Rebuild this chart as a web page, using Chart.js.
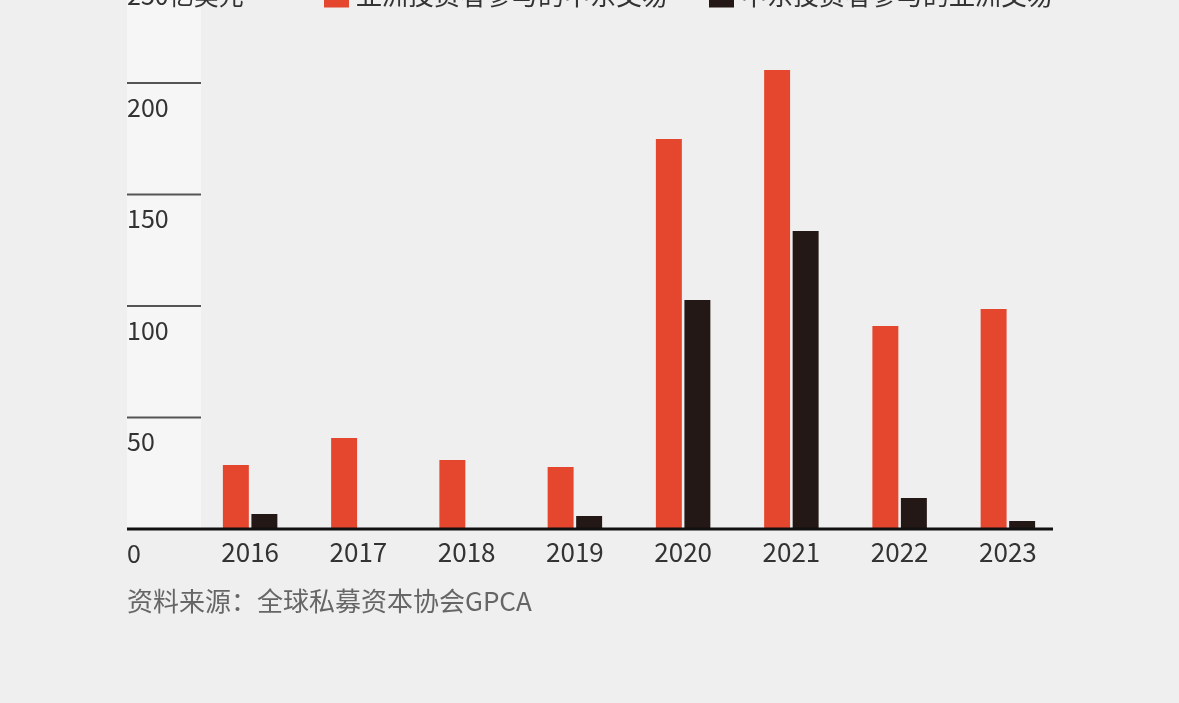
<!DOCTYPE html>
<html>
<head>
<meta charset="utf-8">
<script src="https://cdn.jsdelivr.net/npm/chart.js@4"></script>
<style>
  html, body { margin: 0; padding: 0; background: #efefef; }
  #wrap { position: relative; width: 1179px; height: 703px; overflow: hidden; background: #efefef; }
  #panel { position: absolute; left: 127px; top: 0; width: 74px; height: 528px; background: #f6f6f6; }
  #chartBox { position: absolute; left: 0; top: -60px; width: 1179px; height: 763px; }
  #source { position: absolute; left: 127px; top: 581px; font: 26px "Noto Sans CJK SC", sans-serif; color: #666; white-space: nowrap; }
</style>
</head>
<body>
<div id="wrap">
  <div id="panel"></div>
  <div id="chartBox"><canvas id="dealsChart"></canvas></div>
  <div id="source">资料来源：全球私募资本协会GPCA</div>
</div>
<script>
const years = ['2016', '2017', '2018', '2019', '2020', '2021', '2022', '2023'];
const asiaToMideast = [28.7, 40.8, 30.9, 27.8, 174.9, 205.8, 91, 98.7];
const mideastToAsia = [6.7, 0, 0, 5.8, 102.7, 133.6, 13.9, 3.6];
const yTicks = [0, 50, 100, 150, 200, 250];
const yTickLabels = ['0', '50', '100', '150', '200', '250亿美元'];
const seriesNames = ['亚洲投资者参与的中东交易', '中东投资者参与的亚洲交易'];

const RED = '#e4472e';
const BLACK = '#231815';
const FONT = '"Noto Sans CJK SC", "Noto Sans", sans-serif';

// y labels, short gridlines in the left panel, baseline, legend
const decor = {
  id: 'decor',
  afterDatasetsDraw(chart) {
    const ctx = chart.ctx;
    const y = chart.scales.y;
    const right = chart.chartArea.right;
    ctx.save();
    ctx.font = '25px ' + FONT;
    ctx.textBaseline = 'middle';
    ctx.textAlign = 'left';
    yTicks.forEach((v, i) => {
      const py = y.getPixelForValue(v);
      if (v === 0) {
        ctx.strokeStyle = '#111';
        ctx.lineWidth = 3;
        ctx.beginPath();
        ctx.moveTo(127, py);
        ctx.lineTo(right - 9, py);
        ctx.stroke();
      } else {
        ctx.strokeStyle = '#555';
        ctx.lineWidth = 2;
        ctx.beginPath();
        ctx.moveTo(127, py);
        ctx.lineTo(201, py);
        ctx.stroke();
      }
      ctx.fillStyle = '#333';
      ctx.fillText(yTickLabels[i], 127, py + 24);
    });

    // legend on the same line as the top label
    const ly = y.getPixelForValue(250) + 24;
    const colors = [RED, BLACK];
    const starts = [324, 709];
    ctx.font = '26px ' + FONT;
    seriesNames.forEach((name, i) => {
      ctx.fillStyle = colors[i];
      ctx.fillRect(starts[i], ly - 12, 25, 24);
      ctx.fillStyle = '#333';
      ctx.fillText(name, starts[i] + 32, ly);
    });
    ctx.restore();
  }
};

new Chart(document.getElementById('dealsChart'), {
  type: 'bar',
  data: {
    labels: years,
    datasets: [
      { label: seriesNames[0], data: asiaToMideast, backgroundColor: RED, categoryPercentage: 0.527, barPercentage: 0.91 },
      { label: seriesNames[1], data: mideastToAsia, backgroundColor: BLACK, categoryPercentage: 0.527, barPercentage: 0.91 }
    ]
  },
  options: {
    responsive: true,
    maintainAspectRatio: false,
    animation: false,
    layout: { padding: { left: 196, right: 117, top: 31.5, bottom: 134 } },
    plugins: { legend: { display: false }, tooltip: { enabled: false } },
    scales: {
      x: {
        grid: { display: false, drawTicks: false },
        border: { display: false },
        ticks: { color: '#333', font: { size: 26, family: FONT }, padding: 8, maxRotation: 0 },
        afterFit(s) { s.height = 40; }
      },
      y: {
        display: false,
        min: 0,
        max: 250
      }
    }
  },
  plugins: [decor]
});
</script>
</body>
</html>
